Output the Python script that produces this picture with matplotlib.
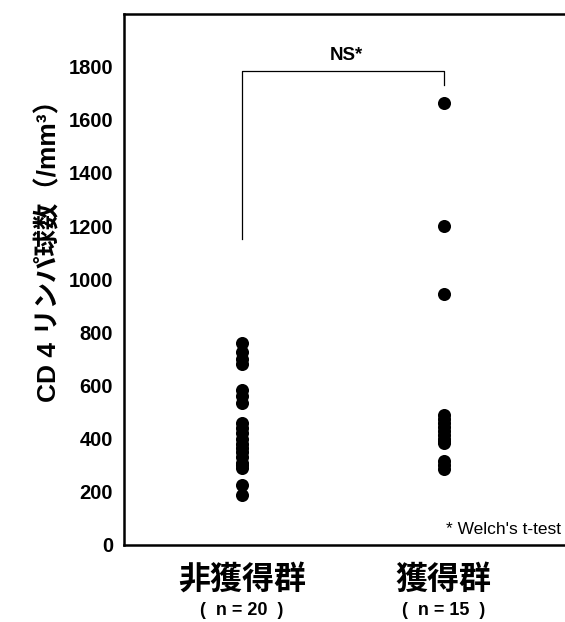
import matplotlib
matplotlib.use("Agg")
import matplotlib.pyplot as plt

plt.rcParams['font.family'] = ['Liberation Sans', 'Noto Sans CJK JP', 'DejaVu Sans']

# data (CD4 counts per mm3)
groups = ["非獲得群", "獲得群"]
group_n = ["(  n = 20  )", "(  n = 15  )"]
non_acquired = [760, 725, 700, 680, 585, 560, 535, 460, 440, 420,
                400, 380, 365, 350, 330, 310, 300, 290, 225, 190]
acquired = [1665, 1200, 943, 490, 475, 460, 445, 430, 415, 400,
            390, 385, 315, 300, 285]
y_ticks = [0, 200, 400, 600, 800, 1000, 1200, 1400, 1600, 1800]
bracket_left_y = 1150
bracket_top_y = 1785
bracket_right_y = 1730

fig = plt.figure(figsize=(5.65, 6.22), dpi=100)
ax = fig.add_axes([124 / 565, 77 / 622, 441 / 565, 531.5 / 622])

for i, vals in enumerate([non_acquired, acquired]):
    ax.plot([i + 1] * len(vals), vals, 'o', color='black', markersize=9.4,
            markeredgewidth=0, clip_on=False)

# significance bracket
ax.plot([1, 1, 2, 2], [bracket_left_y, bracket_top_y, bracket_top_y, bracket_right_y],
        color='black', linewidth=0.9)
ax.text(1.52, bracket_top_y + 25, "NS*", ha='center', va='bottom',
        fontsize=13.5, fontweight='bold')
ax.text(2.585, 30, "* Welch's t-test", ha='right', va='bottom', fontsize=12.5)

ax.set_xlim(0.414, 2.603)
ax.set_ylim(0, 2000)
ax.set_yticks(y_ticks)
ax.set_yticklabels([str(v) for v in y_ticks], fontsize=14.5, fontweight='bold')
ax.set_xticks([])
ax.tick_params(axis='y', length=0, pad=8)

for side in ['left', 'top', 'bottom']:
    ax.spines[side].set_linewidth(1.8)
ax.spines['right'].set_visible(False)

# y label placed by hand (sits a bit above the axes centre in the original)
fig.text(49 / 565, 1 - 245 / 622, "CD 4 リンパ球数（/mm³）", rotation=90,
         ha='center', va='center', fontsize=19, fontweight='bold')

for i, (g, n) in enumerate(zip(groups, group_n)):
    ax.text(i + 1, -0.067, g, transform=ax.get_xaxis_transform(), ha='center', va='center',
            fontsize=23, fontweight='bold')
    ax.text(i + 1, -0.124, n, transform=ax.get_xaxis_transform(), ha='center', va='center',
            fontsize=13, fontweight='bold')

fig.savefig("out.png", dpi=100)
